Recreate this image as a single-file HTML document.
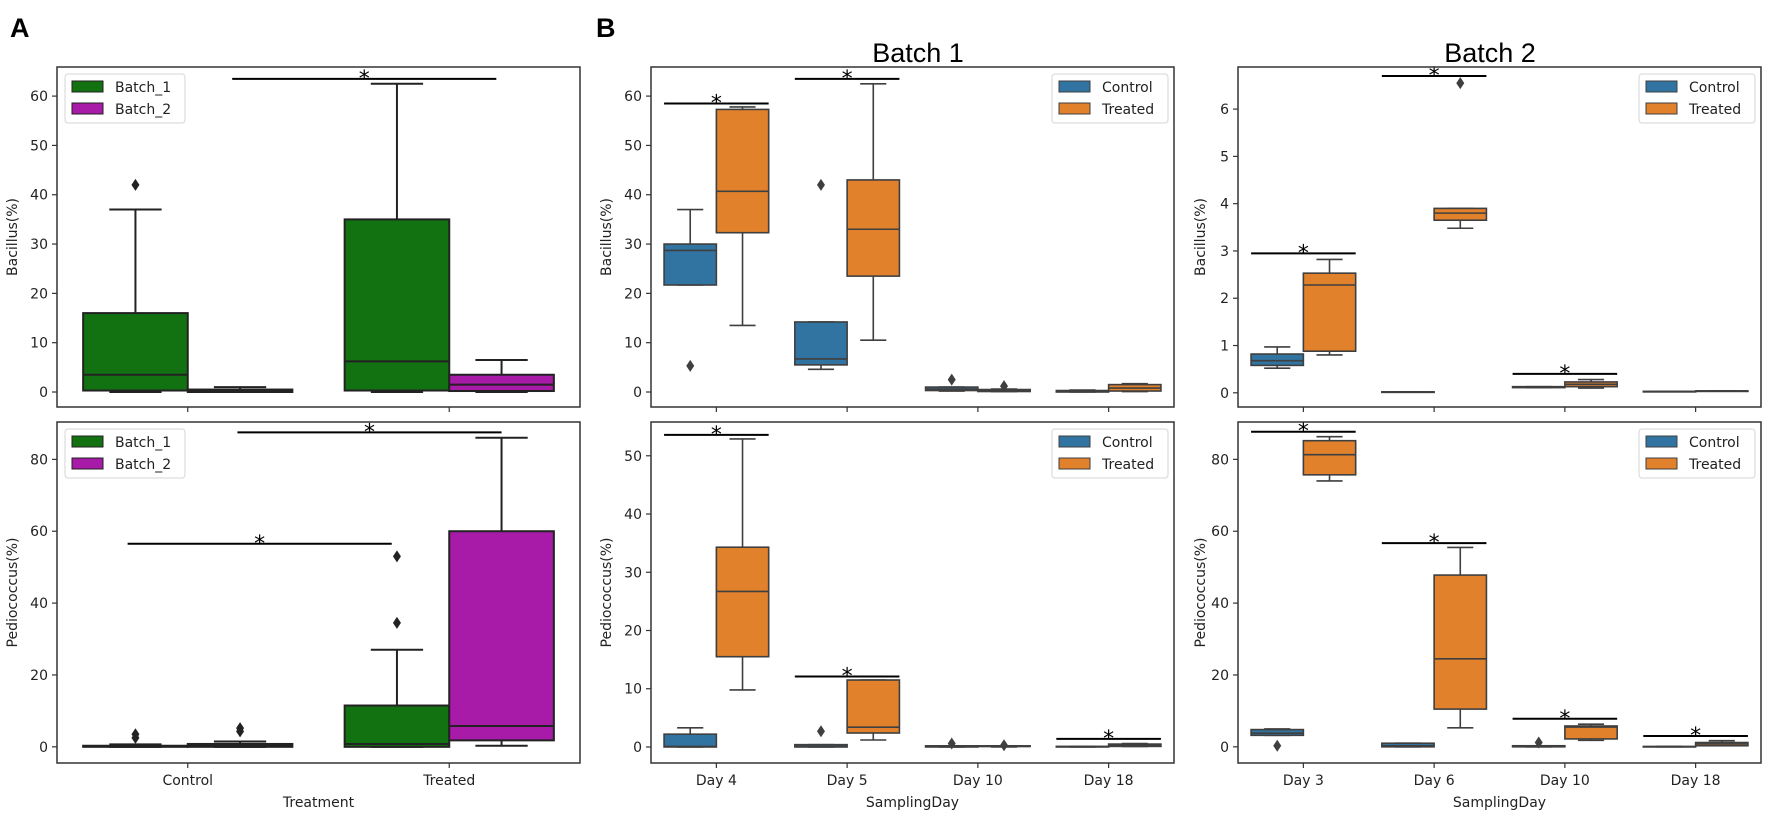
<!DOCTYPE html>
<html><head><meta charset="utf-8"><style>
html,body{margin:0;padding:0;background:#fff;}
svg{display:block;font-family:"DejaVu Sans","Liberation Sans",sans-serif;}
</style></head><body>
<svg id="fig" width="1772" height="814" viewBox="0 0 1772 814" xmlns="http://www.w3.org/2000/svg">
<text x="10" y="37" font-family="Liberation Sans, sans-serif" font-weight="bold" font-size="27">A</text>
<text x="596" y="37" font-family="Liberation Sans, sans-serif" font-weight="bold" font-size="27">B</text>
<text x="918" y="62" text-anchor="middle" font-family="Liberation Sans, sans-serif" font-size="27">Batch 1</text>
<text x="1490" y="62" text-anchor="middle" font-family="Liberation Sans, sans-serif" font-size="27">Batch 2</text>
</svg>
<script>
// ---------- data ----------
const aCategories = ["Control", "Treated"];
const aSeries = ["Batch_1", "Batch_2"];
const aTopBatch1 = [[0,0.3,3.5,16,37],[0,0.3,6.2,35,62.5]];
const aTopBatch1Out = [[42],[]];
const aTopBatch2 = [[0,0,0.2,0.5,1.0],[0,0.2,1.5,3.5,6.5]];
const aTopBatch2Out = [[],[]];
const aTopSig = [[0.17,1.18,63.5]];
const aBotBatch1 = [[0,0,0.1,0.3,0.7],[0,0,0.8,11.5,27]];
const aBotBatch1Out = [[2.5,3.5],[34.5,53]];
const aBotBatch2 = [[0,0,0.3,0.8,1.5],[0.3,1.8,5.8,60,86]];
const aBotBatch2Out = [[4.3,5.2],[]];
const aBotSig = [[-0.23,0.78,56.5],[0.19,1.2,87.5]];
const aTopTicks = [0,10,20,30,40,50,60];
const aBotTicks = [0,20,40,60,80];

const bSeries = ["Control", "Treated"];
const b1Days = ["Day 4","Day 5","Day 10","Day 18"];
const b2Days = ["Day 3","Day 6","Day 10","Day 18"];
const b1TopControl = [[21.7,21.7,28.7,30,37],[4.6,5.5,6.7,14.2,14.2],[0.2,0.3,0.6,1.0,1.0],[0,0,0.1,0.3,0.4]];
const b1TopControlOut = [[5.3],[42],[2.5],[]];
const b1TopTreated = [[13.5,32.3,40.7,57.3,57.8],[10.5,23.5,33,43,62.5],[0.1,0.1,0.3,0.5,0.6],[0.1,0.2,0.8,1.5,1.7]];
const b1TopTreatedOut = [[],[],[1.2],[]];
const b1TopSig = [[-0.4,0.4,58.5],[0.6,1.4,63.5]];
const b1BotControl = [[0,0,0.1,2.2,3.3],[0,0,0.1,0.4,0.4],[0,0,0.1,0.2,0.2],[0,0,0.05,0.1,0.1]];
const b1BotControlOut = [[],[2.7],[0.6],[]];
const b1BotTreated = [[9.8,15.5,26.7,34.3,52.9],[1.2,2.4,3.4,11.5,11.5],[0,0.1,0.1,0.2,0.2],[0.1,0.1,0.3,0.5,0.6]];
const b1BotTreatedOut = [[],[],[0.3],[]];
const b1BotSig = [[-0.4,0.4,53.6],[0.6,1.4,12.1],[2.6,3.4,1.4]];
const b2TopControl = [[0.52,0.58,0.68,0.82,0.97],[0.02,0.02,0.02,0.02,0.02],[0.11,0.11,0.12,0.13,0.13],[0.03,0.03,0.03,0.03,0.03]];
const b2TopControlOut = [[],[],[],[]];
const b2TopTreated = [[0.8,0.88,2.28,2.53,2.82],[3.48,3.65,3.8,3.9,3.9],[0.1,0.13,0.18,0.23,0.28],[0.04,0.04,0.04,0.04,0.04]];
const b2TopTreatedOut = [[],[6.55],[],[]];
const b2TopSig = [[-0.4,0.4,2.95],[0.6,1.4,6.7],[1.6,2.4,0.4]];
const b2BotControl = [[3.2,3.2,3.8,4.8,5.0],[0,0,0.3,1.0,1.0],[0,0,0.1,0.3,0.3],[0,0,0.05,0.1,0.1]];
const b2BotControlOut = [[0.3],[],[1.2],[]];
const b2BotTreated = [[74,75.7,81.3,85.2,86.3],[5.3,10.5,24.5,47.8,55.5],[1.8,2.2,5.5,5.8,6.3],[0.3,0.3,0.8,1.2,1.7]];
const b2BotTreatedOut = [[],[],[],[]];
const b2BotSig = [[-0.4,0.4,87.7],[0.6,1.4,56.7],[1.6,2.4,7.8],[2.6,3.4,3.0]];
const b1TopTicks = [0,10,20,30,40,50,60];
const b1BotTicks = [0,10,20,30,40,50];
const b2TopTicks = [0,1,2,3,4,5,6];
const b2BotTicks = [0,20,40,60,80];

// ---------- drawing ----------
const NS = "http://www.w3.org/2000/svg";
const svg = document.getElementById("fig");
function mk(tag, attrs, parent) {
  const e = document.createElementNS(NS, tag);
  for (const k in attrs) e.setAttribute(k, attrs[k]);
  (parent || svg).appendChild(e);
  return e;
}

function drawPanel(p) {
  const EDGE = p.edge || "#3f3f3f";
  const LW = p.lw || 1.6;
  const g = mk("g", {});
  
  
  const n = p.cats.length;
  const step = (p.x1 - p.x0) / n;
  const xs = i => p.x0 + step * (i + 0.5);
  const ys = v => p.y1 - (v - p.yMin) / (p.yMax - p.yMin) * (p.y1 - p.y0);
  const bw = step * 0.4;
  p.series.forEach((s, si) => {
    s.stats.forEach((st, ci) => {
      const left = xs(ci) - bw + si * bw;
      const cx = left + bw / 2;
      const bg = mk("g", {}, g);
      
      
      const [wl, q1, md, q3, wh] = st;
      mk("line", {x1: cx, x2: cx, y1: ys(q3), y2: ys(wh), stroke: EDGE, "stroke-width": LW}, bg);
      mk("line", {x1: cx, x2: cx, y1: ys(q1), y2: ys(wl), stroke: EDGE, "stroke-width": LW}, bg);
      mk("line", {x1: cx - bw / 4, x2: cx + bw / 4, y1: ys(wh), y2: ys(wh), stroke: EDGE, "stroke-width": LW}, bg);
      mk("line", {x1: cx - bw / 4, x2: cx + bw / 4, y1: ys(wl), y2: ys(wl), stroke: EDGE, "stroke-width": LW}, bg);
      const top = ys(q3), bot = ys(q1);
      mk("rect", {x: left, y: top, width: bw, height: Math.max(bot - top, 0.5), fill: s.color, stroke: EDGE, "stroke-width": LW}, bg);
      mk("line", {x1: left, x2: left + bw, y1: ys(md), y2: ys(md), stroke: EDGE, "stroke-width": LW}, bg);
      s.out[ci].forEach(o => {
        const oy = ys(o);
        const d = mk("path", {d: `M${cx},${oy - 6} L${cx + 4},${oy} L${cx},${oy + 6} L${cx - 4},${oy} Z`, fill: EDGE}, bg);
        
        
      });
    });
  });
  p.sig.forEach(sg => {
    const sx0 = xs(0) + sg[0] * step, sx1 = xs(0) + sg[1] * step, sy = ys(sg[2]);
    const l = mk("line", {x1: sx0, x2: sx1, y1: sy, y2: sy, stroke: "#000", "stroke-width": 2}, g);
    
    
    const t = mk("text", {x: (sx0 + sx1) / 2, y: sy + 7, "text-anchor": "middle", "font-size": 22}, g);
    t.textContent = "*";
    
    
  });
  const fr = mk("rect", {x: p.x0, y: p.y0, width: p.x1 - p.x0, height: p.y1 - p.y0, fill: "none", stroke: "#333", "stroke-width": 1.5}, g);
  
  
  p.ticks.forEach(tv => {
    const ty = ys(tv);
    mk("line", {x1: p.x0 - 5, x2: p.x0, y1: ty, y2: ty, stroke: "#333", "stroke-width": 1.2}, g);
    const t = mk("text", {x: p.x0 - 9, y: ty + 5, "text-anchor": "end", "font-size": 14, fill: "#222"}, g);
    t.textContent = tv;
    
    
  });
  p.cats.forEach((c, i) => {
    mk("line", {x1: xs(i), x2: xs(i), y1: p.y1, y2: p.y1 + 5, stroke: "#333", "stroke-width": 1.2}, g);
    if (p.showX) {
      const t = mk("text", {x: xs(i), y: p.y1 + 22, "text-anchor": "middle", "font-size": 14, fill: "#222"}, g);
      t.textContent = c;
      
      
    }
  });
  if (p.showX) {
    const t = mk("text", {x: (p.x0 + p.x1) / 2, y: p.y1 + 44, "text-anchor": "middle", "font-size": 14, fill: "#222"}, g);
    t.textContent = p.xTitle;
    
    
  }
  const yc = (p.y0 + p.y1) / 2;
  const yt = mk("text", {x: p.ylx, y: yc, "text-anchor": "middle", "font-size": 14, fill: "#222", transform: `rotate(-90 ${p.ylx} ${yc})`}, g);
  yt.textContent = p.yTitle;
  
  
  const lx = p.legRight ? p.x1 - 122 : p.x0 + 8;
  const ly = p.y0 + 7;
  const lw = p.legRight ? 116 : 120;
  const lg = mk("g", {}, g);
  
  
  mk("rect", {x: lx, y: ly, width: lw, height: 49, rx: 3, fill: "#fff", "fill-opacity": 0.85, stroke: "#d6d6d6", "stroke-width": 1}, lg);
  p.series.forEach((s, si) => {
    const e = mk("g", {}, lg);
    
    
    mk("rect", {x: lx + 7, y: ly + 7 + si * 22, width: 31, height: 11, fill: s.color, stroke: EDGE, "stroke-width": 1}, e);
    const t = mk("text", {x: lx + 50, y: ly + 18 + si * 22, "font-size": 14, fill: "#222"}, e);
    t.textContent = s.label;
  });
}

const GREEN = "#127212", MAG = "#a81aa8", BLUE = "#3274a1", ORANGE = "#e1812c";
drawPanel({name: "panel-a-bacillus", edge: "#222", lw: 2, x0: 57, x1: 580, y0: 67, y1: 407, yMin: -3.04, yMax: 65.9, ticks: aTopTicks, cats: aCategories, showX: false, yTitle: "Bacillus(%)", ylx: 17, legRight: false,
  series: [{label: aSeries[0], color: GREEN, stats: aTopBatch1, out: aTopBatch1Out}, {label: aSeries[1], color: MAG, stats: aTopBatch2, out: aTopBatch2Out}], sig: aTopSig});
drawPanel({name: "panel-a-pediococcus", edge: "#222", lw: 2, x0: 57, x1: 580, y0: 422, y1: 763, yMin: -4.5, yMax: 90.4, ticks: aBotTicks, cats: aCategories, showX: true, xTitle: "Treatment", yTitle: "Pediococcus(%)", ylx: 17, legRight: false,
  series: [{label: aSeries[0], color: GREEN, stats: aBotBatch1, out: aBotBatch1Out}, {label: aSeries[1], color: MAG, stats: aBotBatch2, out: aBotBatch2Out}], sig: aBotSig});
drawPanel({name: "panel-b1-bacillus", x0: 651, x1: 1174, y0: 67, y1: 407, yMin: -3.04, yMax: 65.9, ticks: b1TopTicks, cats: b1Days, showX: false, yTitle: "Bacillus(%)", ylx: 611, legRight: true,
  series: [{label: bSeries[0], color: BLUE, stats: b1TopControl, out: b1TopControlOut}, {label: bSeries[1], color: ORANGE, stats: b1TopTreated, out: b1TopTreatedOut}], sig: b1TopSig});
drawPanel({name: "panel-b1-pediococcus", x0: 651, x1: 1174, y0: 422, y1: 763, yMin: -2.75, yMax: 55.8, ticks: b1BotTicks, cats: b1Days, showX: true, xTitle: "SamplingDay", yTitle: "Pediococcus(%)", ylx: 611, legRight: true,
  series: [{label: bSeries[0], color: BLUE, stats: b1BotControl, out: b1BotControlOut}, {label: bSeries[1], color: ORANGE, stats: b1BotTreated, out: b1BotTreatedOut}], sig: b1BotSig});
drawPanel({name: "panel-b2-bacillus", x0: 1238, x1: 1761, y0: 67, y1: 407, yMin: -0.3, yMax: 6.89, ticks: b2TopTicks, cats: b2Days, showX: false, yTitle: "Bacillus(%)", ylx: 1205, legRight: true,
  series: [{label: bSeries[0], color: BLUE, stats: b2TopControl, out: b2TopControlOut}, {label: bSeries[1], color: ORANGE, stats: b2TopTreated, out: b2TopTreatedOut}], sig: b2TopSig});
drawPanel({name: "panel-b2-pediococcus", x0: 1238, x1: 1761, y0: 422, y1: 763, yMin: -4.5, yMax: 90.4, ticks: b2BotTicks, cats: b2Days, showX: true, xTitle: "SamplingDay", yTitle: "Pediococcus(%)", ylx: 1205, legRight: true,
  series: [{label: bSeries[0], color: BLUE, stats: b2BotControl, out: b2BotControlOut}, {label: bSeries[1], color: ORANGE, stats: b2BotTreated, out: b2BotTreatedOut}], sig: b2BotSig});
</script>
</body></html>
